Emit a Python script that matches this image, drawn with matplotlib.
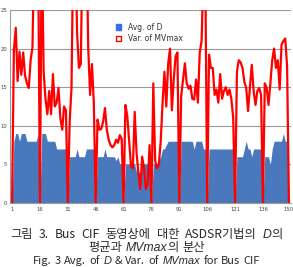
import matplotlib
matplotlib.use("Agg")
import matplotlib.pyplot as plt
from matplotlib.patches import Patch

frames = list(range(1, 151))

avg_d = [
    0, 8, 9, 9, 8, 9, 9, 9, 8, 8, 8, 8, 8, 8, 9,
    0, 9, 9, 9, 8, 8, 8, 8, 8, 7, 7, 7, 7, 7, 7,
    0, 6, 6, 6, 6, 7, 6, 6, 6, 6, 7, 7, 7, 7, 7,
    0, 6, 6, 6, 6, 7, 6, 6, 6, 6, 6, 5.5, 6, 5, 5,
    0, 5, 5, 5, 5, 5, 5, 4, 4, 4, 5, 5, 5, 5, 5,
    0, 5, 5, 5, 5.5, 6, 7, 7, 7.5, 8, 8, 8, 8, 8, 8,
    0, 8, 8, 8, 8, 8, 8, 8, 7, 8, 8, 8, 8, 7, 7,
    0, 7, 7, 7, 7, 7, 7, 7, 7, 7, 7, 7, 7, 7, 7,
    0, 6, 6, 6, 6, 7, 8, 7, 7, 6, 7, 7, 7, 7, 7,
    0, 6, 6, 6, 5, 7, 8, 8, 8, 8, 8, 9, 8, 8, 0,
]

var_mvmax = [
    0, 19.8, 22.7, 15.8, 19.6, 16.6, 19.5, 16.5, 15.5, 14.9, 18.5, 20.2, 35, 35, 35,
    0, 35, 17, 13.5, 11.5, 14.5, 11.5, 16.7, 12.5, 13, 14.9, 11, 9.5, 12.5, 12,
    0, 10.5, 15, 35, 35, 22, 17.5, 18, 35, 35, 35, 20, 14, 18, 13,
    0, 10.8, 9.5, 9.6, 10.5, 12.3, 9.5, 8.2, 7.5, 7.2, 7.5, 8.2, 7.8, 8.8, 8.3,
    0, 12.7, 11.3, 8, 4.8, 4.5, 11.8, 6.5, 3.8, 1.8, 6, 4.5, 1.8, 2.5, 7.5,
    0, 15.5, 5.5, 4.5, 5, 8, 13, 17, 12.5, 18, 20, 12, 16, 19, 19.5,
    0, 13.8, 16, 18.1, 15.5, 14.8, 15.2, 13.5, 13.4, 16, 13, 19.5, 21, 30, 30,
    0, 19.2, 17.5, 17.5, 14, 14.7, 13, 16.7, 13.5, 14.5, 15, 14, 14.7, 13.5, 11,
    0, 17, 18.5, 18.2, 17.5, 15.7, 14.9, 11.9, 15, 17.9, 14.5, 12.7, 14.5, 14.9, 14,
    0, 15.5, 14.9, 12.7, 15.5, 18.5, 20, 17.5, 18.5, 14.7, 20.5, 21, 21.3, 17.7, 0,
]

x_ticks = [1, 16, 31, 46, 61, 76, 91, 106, 121, 136, 150]
y_ticks = [0, 5, 10, 15, 20, 25]
legend_labels = ["Avg. of D", "Var. of MVmax"]

W, H = 293, 267
fig = plt.figure(figsize=(W / 100, H / 100), dpi=100)
ax = fig.add_axes([10 / W, 1 - 203 / H, 281 / W, 193 / H])

blue = "#4a78bd"
red = "#ff0000"
ax.fill_between(frames, avg_d, 0, color=blue, linewidth=0, zorder=2)
ax.plot(frames, var_mvmax, color=red, linewidth=1.6, zorder=3, solid_joinstyle="round")

ax.set_xlim(-0.1, 151.1)
ax.set_ylim(0, 25)
ax.set_yticks(y_ticks)
ax.set_xticks(x_ticks)
ax.set_xticklabels([str(t) for t in x_ticks])
ax.tick_params(axis="both", length=0, labelsize=3.8, colors="#444444", pad=2)
ax.tick_params(axis="x", pad=3)
ax.yaxis.grid(True, color="#9a9a9a", linewidth=0.8, zorder=1)
ax.set_axisbelow(True)
for s in ["top", "right"]:
    ax.spines[s].set_visible(False)
ax.spines["left"].set_color("#9a9a9a")
ax.spines["bottom"].set_color("#9a9a9a")
ax.spines["left"].set_linewidth(0.8)
ax.spines["bottom"].set_linewidth(0.8)

handles = [Patch(facecolor="#3a6ef0", edgecolor="#3a6ef0"),
           Patch(facecolor="white", edgecolor=red, linewidth=1.0)]
leg = ax.legend(handles, legend_labels, loc="upper left",
                bbox_to_anchor=(112 / W, 1 - 19 / H), bbox_transform=fig.transFigure,
                frameon=False, fontsize=5.5, handlelength=0.7, handleheight=0.7,
                handletextpad=0.9, labelspacing=0.35, borderpad=0)
for t in leg.get_texts():
    t.set_color("#333333")

# caption with mixed italic segments
kfam = ["Noto Sans CJK KR", "DejaVu Sans"]
ifam = ["Liberation Sans"]
cap_color = "#2a2a2a"
renderer = fig.canvas.get_renderer()


def seg_width(s, fam, style, size):
    t = fig.text(0, 0, s, fontsize=size, family=fam, style=style)
    w = t.get_window_extent(renderer).width
    t.remove()
    return w


def rich_line(y_px, words, size, x0=None, x1=None):
    sp = seg_width("x x", kfam, "normal", size) - seg_width("xx", kfam, "normal", size)
    groups = []
    total = 0.0
    for g in words:
        parts = []
        for s, it in g:
            fam = ifam if it else kfam
            style = "italic" if it else "normal"
            w = seg_width(s, fam, style, size)
            parts.append((s, fam, style, w))
            total += w
        groups.append(parts)
    n_gap = max(len(groups) - 1, 1)
    if x0 is not None:
        gap = (x1 - x0 - total) / n_gap
        x = x0
    else:
        gap = sp * 1.3
        x = (W - total - gap * (len(groups) - 1)) / 2.0
    for parts in groups:
        for s, fam, style, w in parts:
            fig.text(x / W, 1 - y_px / H, s, fontsize=size, family=fam, style=style,
                     color=cap_color, va="baseline", ha="left")
            x += w
        x += gap


line1 = [[("그림", False)], [("3.", False)], [("Bus", False)], [("CIF", False)],
         [("동영상에", False)], [("대한", False)], [("ASDSR기법의", False)],
         [("D", True), ("의", False)]]
line2 = [[("평균과", False)], [("MVmax", True), ("의", False)], [("분산", False)]]
line3 = [[("Fig.", False)], [("3", False)], [("Avg.", False)], [("of", False)],
         [("D", True)], [("&", False)], [("Var.", False)], [("of", False)],
         [("MVmax", True)], [("for", False)], [("Bus", False)], [("CIF", False)]]

rich_line(238, line1, 8.8, 10, 283)
rich_line(251, line2, 8.8)
rich_line(264, line3, 8.0)

fig.savefig("out.png", dpi=100)
